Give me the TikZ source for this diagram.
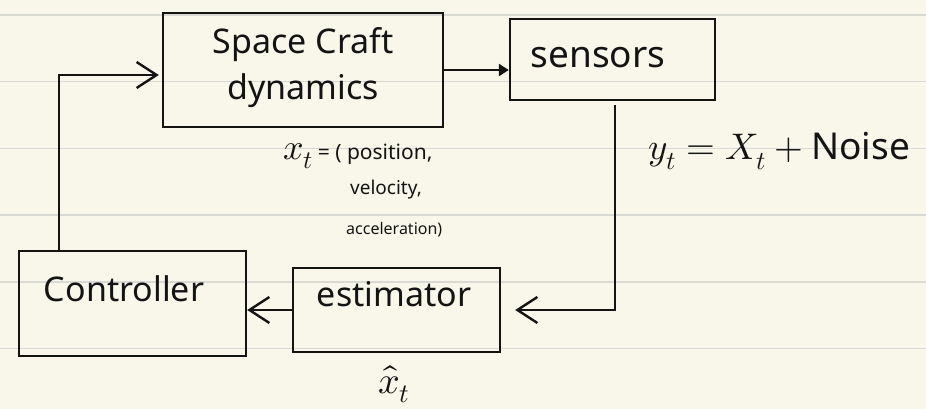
\documentclass[tikz,border=0pt]{standalone}
\usepackage{fontspec}
\usepackage{unicode-math}
\setmainfont{Noto Sans}
\setmathfont{Latin Modern Math}
\usetikzlibrary{arrows.meta,calc}
\definecolor{paper}{HTML}{F8F7EA}
\definecolor{rule}{HTML}{D9D9D6}
\definecolor{ink}{HTML}{141414}
\tikzset{
  blockbox/.style={draw=ink, line width=2.4pt, rectangle, inner sep=0pt},
  handtext/.style={text=ink, inner sep=0pt, align=center},
  flow/.style={draw=ink, line width=2.4pt},
  barb/.style={-{Straight Barb[length=20pt,width=26pt,line width=2.4pt]}},
  solidtip/.style={-{Triangle[length=10pt,width=12pt]}}
}
\begin{document}
\begin{tikzpicture}[x=1pt,y=-1pt]
  % paper with ruled lines
  \fill[paper] (0,0) rectangle (926,409);
  \useasboundingbox (0,0) rectangle (926,409);
  \foreach \ry in {15,81.7,148.4,215.1,281.8,348.5}
    \draw[rule, line width=1.6pt] (0,\ry) -- (926,\ry);

  % blocks with their texts
  \node[blockbox, minimum width=280pt, minimum height=114pt] (dyn)  at (303,70) {};
  \node[blockbox, minimum width=205pt, minimum height=81pt]  (sens) at (612.5,59.5) {};
  \node[blockbox, minimum width=207pt, minimum height=84pt]  (est)  at (396.5,310) {};
  \node[blockbox, minimum width=227pt, minimum height=105pt] (ctrl) at (132.5,303.5) {};

  \node[handtext, font=\fontsize{34}{46}\selectfont] (dyntext) at (303,68) {Space Craft\\dynamics};
  \node[handtext, font=\fontsize{37}{40}\selectfont] (senstext) at (598,58) {sensors};
  \node[handtext, font=\fontsize{34}{38}\selectfont] (esttext) at (394,294) {estimator};
  \node[handtext, font=\fontsize{34}{38}\selectfont] (ctrltext) at (124,289) {Controller};

  % signal flow
  \draw[flow, solidtip] (dyn.east) -- (sens.west |- dyn.east);
  \draw[flow, barb, shorten <=4pt, shorten >=14pt] ([xshift=2.5pt]sens.south) |- (est.east);
  \draw[flow, barb] (est.west) -- (ctrl.east |- est.west);
  \draw[flow, barb, shorten >=3pt] ([xshift=41pt]ctrl.north west) |- ([yshift=-5pt]dyn.west);

  % signal labels
  \node[handtext, anchor=base west, font=\fontsize{36}{38}\selectfont] (xsym) at (283,160) {$x_t$};
  \node[handtext, anchor=base west, font=\fontsize{21}{24}\selectfont] (xlabel) at ([xshift=4pt]xsym.base east) {= ( position,};
  \node[handtext, anchor=base west, font=\fontsize{19}{22}\selectfont] (vlabel) at (350,194) {velocity,};
  \node[handtext, anchor=base west, font=\fontsize{16}{20}\selectfont] (alabel) at (346,234) {acceleration)};
  \node[handtext, anchor=base west, font=\fontsize{37}{40}\selectfont] (ylabel) at (648,160) {$y_t = X_t +{}$Noise};
  \node[handtext, font=\fontsize{38}{40}\selectfont] (xhat) at (394,384) {$\hat{x}_t$};
\end{tikzpicture}
\end{document}
